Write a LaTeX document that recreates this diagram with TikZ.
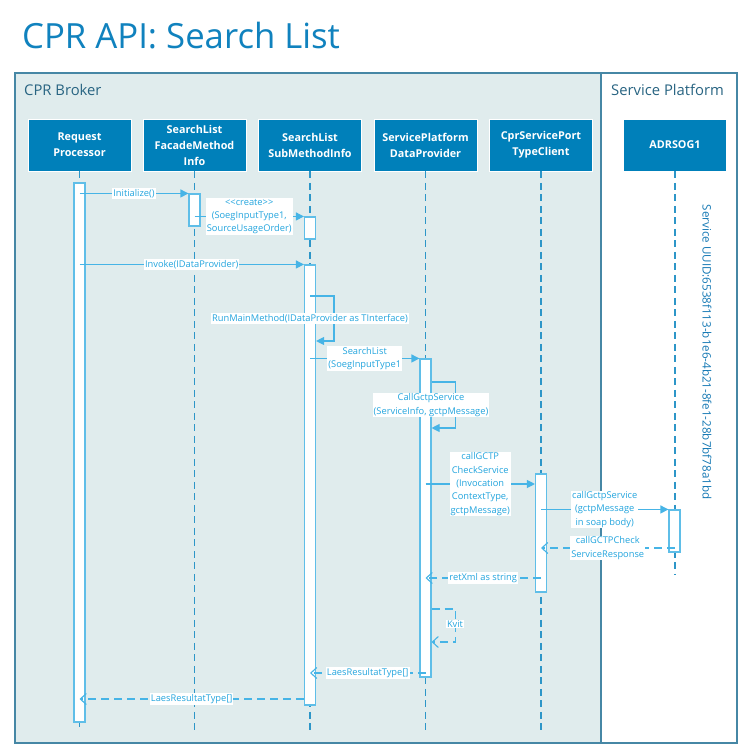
\documentclass[tikz,border=0pt]{standalone}
\usepackage{fontspec}
\setmainfont{Open Sans}
\usetikzlibrary{arrows.meta}
\definecolor{titleblue}{RGB}{16,130,190}
\definecolor{framecol}{RGB}{70,135,165}
\definecolor{brokerfill}{RGB}{224,236,237}
\definecolor{regiontext}{RGB}{40,100,130}
\definecolor{headfill}{RGB}{0,128,186}
\definecolor{lifecol}{RGB}{45,150,200}
\definecolor{actcol}{RGB}{95,190,232}
\definecolor{msgcol}{RGB}{70,180,230}
\definecolor{lbltext}{RGB}{35,165,222}
\definecolor{uuidcol}{RGB}{20,120,180}
\begin{document}
\begin{tikzpicture}[x=1pt,y=-1pt,
  titletext/.style={font=\fontsize{34.7}{40}\selectfont, text=titleblue, inner sep=0pt},
  region/.style={draw=framecol, line width=1.2pt, inner sep=0pt},
  regionlabel/.style={font=\fontsize{14.8}{17}\selectfont, text=regiontext, inner sep=0pt},
  head/.style={fill=headfill, draw=white, line width=0.6pt, minimum width=103pt, minimum height=52pt,
    align=center, text=white, font=\fontsize{10.8}{16}\selectfont\bfseries, inner sep=0pt},
  life/.style={draw=lifecol, line width=1.1pt, dash pattern=on 7pt off 4.5pt},
  act/.style={draw=actcol, fill=white, line width=1.1pt, minimum width=11pt, inner sep=0pt},
  msg/.style={draw=msgcol, line width=1.1pt, -{Triangle[length=8pt,width=8pt]}},
  ret/.style={draw=msgcol, line width=1.1pt, dash pattern=on 8pt off 5pt, -{Straight Barb[length=6pt,width=11pt]}},
  lbl/.style={fill=white, inner sep=1pt, text=lbltext, align=center, font=\fontsize{9.3}{13.3}\selectfont},
  uuid/.style={text=uuidcol, font=\fontsize{11.6}{13}\selectfont, inner sep=0pt, rotate=-90}
]
\useasboundingbox (0,0) rectangle (740,745);
\fill[white] (0,0) rectangle (740,745);
\node[titletext, anchor=base west] (title) at (22,48) {CPR API: Search List};
% regions
\node[region, fill=brokerfill, minimum width=586pt, minimum height=670pt] (broker) at (308,408) {};
\node[region, fill=white, minimum width=136pt, minimum height=670pt] (platform) at (669,408) {};
\node[regionlabel, anchor=base west] (brokerlbl) at (24,95.5) {CPR Broker};
\node[regionlabel, anchor=base west] (platformlbl) at (611,95.5) {Service Platform};
% headers
\node[head] (rp) at (79.5,145) {Request\\Processor};
\node[head] (fac) at (194.5,145) {SearchList\\FacadeMethod\\Info};
\node[head] (sub) at (310,145) {SearchList\\SubMethodInfo};
\node[head] (sp) at (425.5,145) {ServicePlatform\\DataProvider};
\node[head] (cpr) at (541,145) {CprServicePort\\TypeClient};
\node[head] (adr) at (675,145) {ADRSOG1};
% lifeline ends
\coordinate (rpend) at (79.5,727);
\coordinate (facend) at (194.5,730);
\coordinate (subend) at (310,730);
\coordinate (spend) at (425.5,730);
\coordinate (cprend) at (541,730);
\coordinate (adrend) at (675,575);
\draw[life] (rp.south) -- (rpend);
\draw[life] (fac.south) -- (facend);
\draw[life] (sub.south) -- (subend);
\draw[life] (sp.south) -- (spend);
\draw[life] (cpr.south) -- (cprend);
\draw[life] (adr.south) -- (adrend);
% UUID
\node[uuid] (uuidtxt) at (707,352) {Service UUID:6538f113-b1e6-4b21-8fe1-28b7bf78a1bd};
% activation bars
\node[act, minimum height=539pt] (rpA) at (79.5,452.5) {};
\node[act, minimum height=32pt] (facA) at (194.5,210) {};
\node[act, minimum height=22pt] (subA1) at (310,228) {};
\node[act, minimum height=440pt] (subA2) at (310,485) {};
\node[act, minimum height=318pt] (spA) at (425.5,518) {};
\node[act, minimum height=118pt] (cprA) at (541,533) {};
\node[act, minimum height=42pt] (adrA) at (674.5,531) {};
% messages
\draw[msg] (rpA.center |- facA.north) -- node[lbl] (l1) {Initialize()} (facA.north west);
\draw[msg] (facA.center |- subA1.north) -- node[lbl] (l2) {<{}<create>{}>\\(SoegInputType1,\\SourceUsageOrder)} (subA1.north west);
\draw[msg] (rpA.center |- subA2.north) -- node[lbl] (l3) {Invoke(IDataProvider)} (subA2.north west);
\draw[msg] (subA2.center |- 0,296) -- ++(24,0) |- (subA2.east |- 0,341);
\node[lbl] (l4) at (310,318.5) {RunMainMethod(IDataProvider as TInterface)};
\draw[msg] (subA2.center |- spA.north) -- node[lbl] (l5) {SearchList\\(SoegInputType1} (spA.north west);
\draw[msg] (spA.east |- 0,382) -- ++(24,0) |- (spA.east |- 0,428);
\node[lbl] (l6) at (431,405) {CallGctpService\\(ServiceInfo, gctpMessage)};
\draw[msg] (spA.center |- 0,484) -- node[lbl] (l7) {callGCTP\\CheckService\\(Invocation\\ContextType,\\gctpMessage)} (cprA.west |- 0,484);
\draw[msg] (cprA.center |- adrA.north) -- node[lbl] (l8) {callGctpService\\(gctpMessage\\in soap body)} (adrA.north west);
\draw[ret] (adrA.center |- 0,548) -- node[lbl] (l9) {callGCTPCheck\\ServiceResponse} (cprA.center |- 0,548);
\draw[ret] (cprA.center |- 0,578) -- node[lbl] (l10) {retXml as string} (spA.center |- 0,578);
\draw[ret] (spA.east |- 0,609) -- ++(24,0) |- (spA.east |- 0,642);
\node[lbl] (l11) at (455,624) {Kvit};
\draw[ret] (spA.center |- 0,673) -- node[lbl] (l12) {LaesResultatType[]} (subA2.center |- 0,673);
\draw[ret] (subA2.west |- 0,699) -- node[lbl] (l13) {LaesResultatType[]} (rpA.center |- 0,699);
\end{tikzpicture}
\end{document}
